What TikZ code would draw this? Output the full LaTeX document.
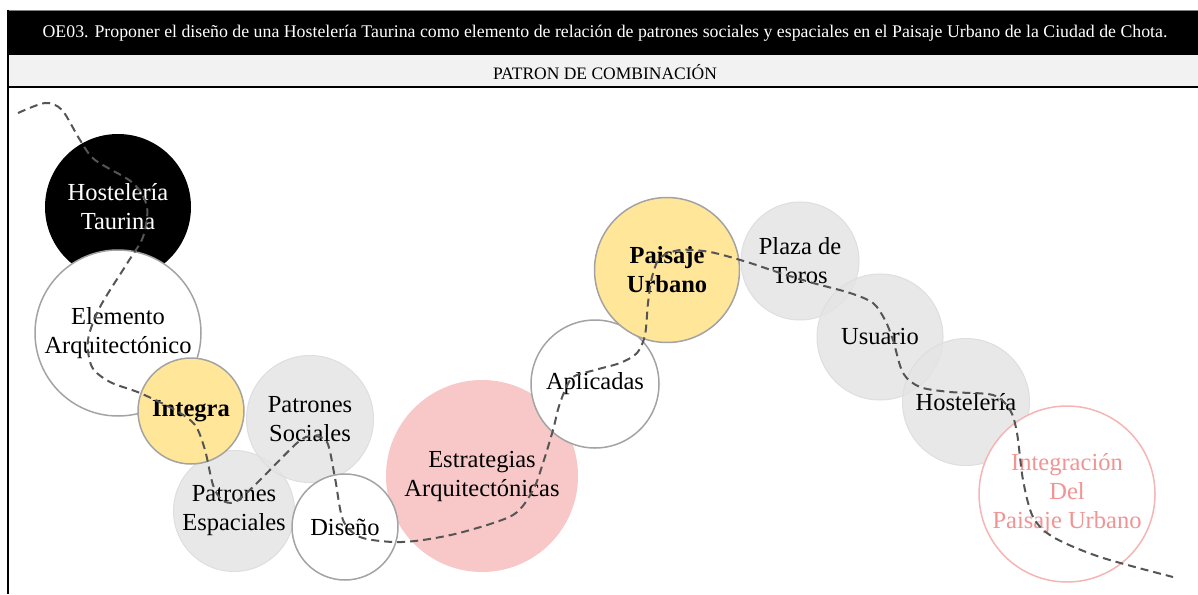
\documentclass[tikz,border=0pt]{standalone}
\usepackage{fontspec}
\setmainfont{Liberation Serif}
\usepackage{xcolor}
\usepackage{tikz}
\definecolor{amarillo}{HTML}{FFE699}
\definecolor{rosa}{HTML}{F8C8C8}
\definecolor{grisclaro}{HTML}{E4E4E4}
\definecolor{borde}{HTML}{A3A3A3}
\definecolor{rosaborde}{HTML}{F6B4B4}
\definecolor{rosatexto}{HTML}{F09494}
\definecolor{barra}{HTML}{F2F2F2}
\definecolor{trazo}{HTML}{555555}
\tikzset{
	bubble/.style={circle,inner sep=0pt,align=center,font=\fontsize{24.5}{29}\selectfont},
	blancobox/.style={bubble,fill=white,draw=borde,line width=1.5pt},
	grisbox/.style={bubble,fill=grisclaro,fill opacity=0.85,text opacity=1,draw=black!13,line width=1pt},
	amarillobox/.style={bubble,fill=amarillo,draw=borde,line width=1.5pt,font=\fontsize{24.5}{29}\selectfont\bfseries},
}

\begin{document}
\begin{tikzpicture}[x=1pt,y=-1pt]
	\useasboundingbox (0,0) rectangle (1198,594);
	\fill[black] (8,11) rectangle (1198,55);
	\draw[gray,line width=0.6pt] (8,10) -- (1198,10);
	\fill[barra] (8,55) rectangle (1198,87);
	\draw[line width=1.5pt] (8,87) -- (1198,87);
	\draw[line width=2pt] (8,10) -- (8,594);
	\node[white,font=\fontsize{17.8}{20}\selectfont] (titulo) at (605,33) {OE03. Proponer el diseño de una Hostelería Taurina como elemento de relación de patrones sociales y espaciales en el Paisaje Urbano de la Ciudad de Chota.};
	\node[font=\fontsize{17.5}{20}\selectfont] (patron) at (605,72) {PATRON DE COMBINACIÓN};
	
	\node[bubble,fill=black,text=white,minimum size=146pt] (taurina) at (118,207) {Hostelería\\Taurina};
	\node[blancobox,minimum size=166pt] (elemento) at (118,333) {Elemento\\Arquitectónico};
	\node[grisbox,minimum size=121pt] (espaciales) at (234,511) {Patrones\\Espaciales};
	\node[grisbox,minimum size=127pt] (sociales) at (310,419) {Patrones\\Sociales};
	\node[amarillobox,minimum size=106pt] (integra) at (191,411) {Integra};
	\node[bubble,fill=rosa,minimum size=192pt] (estrategias) at (482,476) {Estrategias\\Arquitectónicas};
	\node[blancobox,minimum size=106pt] (diseno) at (345,527) {Diseño};
	\node[blancobox,minimum size=128pt] (aplicadas) at (595,384) {Aplicadas};
	\node[amarillobox,minimum size=145pt] (paisaje) at (667,270) {Paisaje\\Urbano};
	\node[grisbox,minimum size=118pt] (plaza) at (800,261) {Plaza de\\Toros};
	\node[grisbox,minimum size=126pt] (usuario) at (880,337) {Usuario};
	\node[grisbox,minimum size=127pt] (hosteleria) at (966,402) {Hostelería};
	\node[bubble,fill=white,draw=rosaborde,line width=1.5pt,text=rosatexto,minimum size=176pt] (integracion) at (1067,494) {Integración\\Del\\Paisaje Urbano};
	
	\draw[trazo,line width=2pt,dash pattern=on 8pt off 5pt] plot[smooth] coordinates {(18,113) (45,103) (62,110) (80,140) (95,160) (133,183) (147,207) (143,237) (128,262) (100,307) (88,340) (92,367) (110,382) (140,393) (175,410) (195,425) (205,450) (213,485) (222,500) (235,502) (255,485) (297,443) (312,436) (327,442) (335,478) (343,520) (360,537) (393,542) (423,540) (463,532) (513,515) (533,490) (543,463) (553,430) (560,403) (572,378) (595,370) (620,363) (637,353) (645,335) (648,303) (652,277) (660,258) (680,250) (710,252) (747,262) (780,273) (813,283) (850,293) (873,303) (885,320) (893,340) (903,373) (920,387) (950,392) (993,395) (1010,410) (1017,433) (1023,480) (1033,517) (1053,537) (1100,557) (1173,577)};
\end{tikzpicture}
\end{document}
